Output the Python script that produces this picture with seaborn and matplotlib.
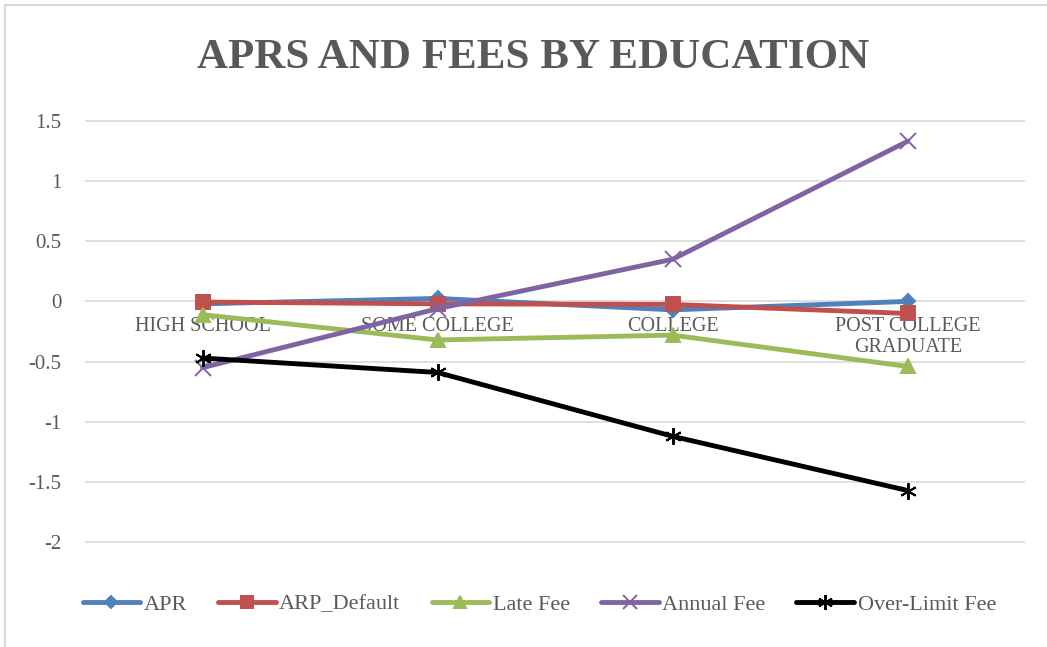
import matplotlib.pyplot as plt
import pandas as pd
import seaborn as sns
from matplotlib.lines import Line2D

categories = ["HIGH SCHOOL", "SOME COLLEGE", "COLLEGE", "POST COLLEGE\nGRADUATE"]
apr = [-0.02, 0.025, -0.07, 0.0]
arp_default = [-0.005, -0.02, -0.025, -0.10]
late_fee = [-0.11, -0.32, -0.28, -0.54]
annual_fee = [-0.55, -0.06, 0.35, 1.33]
over_limit_fee = [-0.47, -0.59, -1.12, -1.57]

series = {
    "APR": apr,
    "ARP_Default": arp_default,
    "Late Fee": late_fee,
    "Annual Fee": annual_fee,
    "Over-Limit Fee": over_limit_fee,
}
colors = {
    "APR": "#4F81BD",
    "ARP_Default": "#C0504D",
    "Late Fee": "#9BBB59",
    "Annual Fee": "#8064A2",
    "Over-Limit Fee": "#000000",
}
markers = {
    "APR": ("D", 7),
    "ARP_Default": ("s", 10),
    "Late Fee": ("^", 10),
    "Annual Fee": ("x", 11),
    "Over-Limit Fee": ((6, 2, 0), 12),
}

rows = []
for name, vals in series.items():
    for i, v in enumerate(vals):
        rows.append({"series": name, "pos": i, "value": v})
df = pd.DataFrame(rows)

sns.set_style("white")
plt.rcParams["font.family"] = ["Liberation Serif", "DejaVu Serif"]
text_color = "#595959"

fig = plt.figure(figsize=(10.47, 6.47), dpi=100)
ax = fig.add_axes([0.0812, 0.078, 0.898, 0.754])

for y in [-2, -1.5, -1, -0.5, 0, 0.5, 1, 1.5]:
    ax.axhline(y, color="#D9D9D9", lw=1.2, zorder=0)

handles = []
for name in series:
    m, ms = markers[name]
    sub = df[df["series"] == name]
    sns.lineplot(data=sub, x="pos", y="value", ax=ax, color=colors[name],
                 lw=3.5, marker=m, markersize=ms, markeredgewidth=1.4,
                 markeredgecolor=colors[name], legend=False, zorder=3)
    handles.append(Line2D([], [], color=colors[name], lw=3.5, marker=m,
                          markersize=ms * 0.9, markeredgewidth=1.4,
                          markeredgecolor=colors[name]))

ax.set_xlim(-0.5, 3.5)
ax.set_ylim(-2.45, 1.6)
ax.set_xticks([])
ax.set_yticks([-2, -1.5, -1, -0.5, 0, 0.5, 1, 1.5])
ax.set_yticklabels(["-2", "-1.5", "-1", "-0.5", "0", "0.5", "1", "1.5"])
ax.tick_params(axis="y", length=0, pad=17, labelsize=15, labelcolor=text_color)
ax.set_xlabel("")
ax.set_ylabel("")
for s in ax.spines.values():
    s.set_visible(False)

for i, lab in enumerate(categories):
    ax.annotate(lab, xy=(i, 0), xytext=(0, -11), textcoords="offset points",
                ha="center", va="top", fontsize=14.5, color=text_color,
                linespacing=1.2, zorder=2)

fig.text(0.509, 0.91, "APRS AND FEES BY EDUCATION", ha="center", va="center",
         fontsize=31, fontweight="bold", color=text_color)

fig.legend(handles, list(series.keys()), loc="center", bbox_to_anchor=(0.515, 0.066),
           ncol=5, frameon=False, fontsize=16, handlelength=2.6,
           columnspacing=1.4, handletextpad=0.15, labelcolor=text_color)

fig.patches.append(plt.Rectangle((0.005, -0.01), 1.2, 1.002, transform=fig.transFigure,
                                 fill=False, edgecolor="#D9D9D9", lw=1.5))

fig.savefig("out.png", dpi=100)
